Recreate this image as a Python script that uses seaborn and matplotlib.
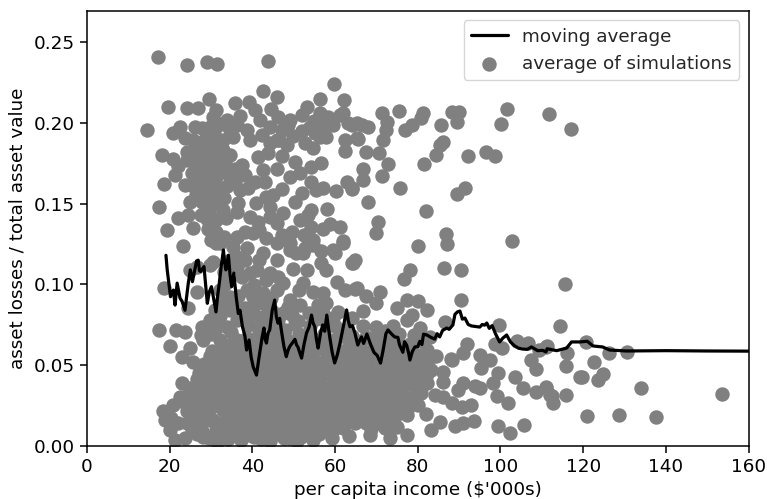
import matplotlib
matplotlib.use("Agg")
import matplotlib.pyplot as plt
import seaborn as sns
import pandas as pd

sns.set_style("ticks")
plt.rcParams['font.family'] = ['DejaVu Sans']

upper_left = [(17.2,.241),(24.2,.236),(29,.2375),(31.4,.2364),(43.8,.238),(59.7,.224),(42.6,.2197),(45.9,.216),(62.1,.214),(56.3,.215),
(19.5,.21),(24.2,.209),(26.8,.209),(29.5,.2147),(35.8,.212),(39.2,.213),(14.5,.1955),(20.9,.1935),(22.5,.1972),(23.7,.1904),
(25.7,.1894),(27.7,.1966),(29.7,.1976),(28.9,.1915),(31.3,.208),(30.5,.2038),(33.8,.2018),(37,.2042),(34.6,.1956),(33,.1894),
(35.4,.1915),(38.6,.1956),(39.4,.1894),(33,.1832),(34.6,.18),(24.1,.1822),(18.2,.18),(20.9,.1774),(22.1,.1733),(21.3,.1678),
(18.7,.162),(23.7,.1616),(25.3,.1688),(26.5,.175),(28.5,.1812),(29.7,.175),(32.2,.1729),(28.1,.1667),(31.3,.1667),(34.6,.1667),
(25.7,.1606),(28.9,.1585),(32.2,.1585),(24.9,.1513),(27.7,.1513),(31.3,.1503),(17.5,.1478),(22.1,.141),(24.5,.1431),(25.7,.1348),
(19.3,.1338),(31.3,.1399),(31.3,.1327),(30.1,.1276),(32.2,.1255),(23.3,.1239),
(27.1,.1875),(30.8,.1945),(32.4,.199),(36.2,.1985),(31.2,.1868),(28.2,.1768),(30.9,.1785),(33.4,.1763),(26.7,.1672),(24.3,.1772),
(29.8,.1628),(33.9,.1608),(35.8,.1712),(26.4,.1552),(29.6,.1528),(33.2,.1535),(29.4,.1458),(32.8,.1462),(30.4,.1408),(27.6,.1428),(29.3,.1342),(33.2,.1292),
(26.1,.1975),(29.9,.1855),(27.4,.1812),(26.3,.1825),(30.1,.1702),(27.4,.1705),(29.2,.1692),(33.3,.1698),(35.9,.1635),(31.1,.1605),(28.2,.1545),(30.5,.1562),(27.8,.1608),(33.6,.1412),(29.1,.1405)]

upper_middle = [(37.6,.174),(38.2,.1678),(37,.1585),(39,.1595),(40.6,.1636),(43,.1636),(42.6,.1709),(45.9,.1713),(41.4,.1791),(43.8,.1812),
(47.1,.1795),(50.3,.176),(56.7,.1754),(54.3,.1729),(51.5,.1688),(49.1,.1667),(47.1,.1591),(43.4,.1544),(45,.1554),(51.9,.1568),
(50.3,.1509),(54.3,.1636),(57.1,.1595),(60.2,.1575),(55.5,.1585),(62.8,.1636),(64,.1591),(58,.1465),(54.3,.1461),(53.5,.143),
(47.5,.1445),(36.6,.1503),(36.2,.1451),(39.4,.142),(41.4,.1389),(44.2,.142),(45.9,.1379),(49.5,.1327),(51.5,.1399),(54.3,.1358),
(58.7,.1375),(61.2,.1358),(62,.127),(54.7,.1276),(52.7,.1224),(49.1,.1255),(43.4,.1286),(45.9,.1255),(40.2,.1321),(38.2,.1327),
(36.2,.1296),(38.6,.1224),(59.6,.121),(40.6,.2079),(41.8,.2018),(44.5,.2086),(46.3,.2038),(48.7,.1987),(44.2,.1976),(45.9,.1894),
(44.2,.1873),(49.9,.1919),(52.7,.1873),(54.7,.1842),(53.1,.21),(51.9,.2048),(56.3,.2059),(53.9,.1976),(56.3,.1915),(57.9,.1915),
(59.6,.1987),(61.2,.2048),(62,.2059),(63.2,.1997),(65.2,.1997),(62.4,.1894),(62.4,.1826),(65.2,.1904),
(54.8,.2012),(52.1,.1952),(55.2,.1935),(47.2,.1955),(46.4,.1895),(41.5,.1335),(47.2,.1305),(52.4,.1305),
(49.2,.2015),(57.6,.1985),(58.2,.2035),(42.3,.1925),(48.3,.1862),(40.8,.1505),(44.3,.1478),(57.2,.1345),(50.6,.1195),(56.6,.1205)]

upper_right = [(71.4,.2059),(75.5,.2073),(72.5,.2007),(72.3,.1956),(71.7,.1894),(66.4,.1987),(68,.1977),(64,.1987),(65.6,.1898),(67.6,.1822),
(70.6,.1816),(72.7,.1746),(66.8,.1713),(66.7,.1647),(71.4,.1668),(64.2,.1595),(67.9,.1509),(75.7,.1595),(70.4,.1385),(69.8,.1317),
(64.8,.1153),(64,.1132),(76.9,.1956),(78.5,.1987),(80.9,.2028),(81.2,.2059),(85.6,.1987),(88.2,.2069),(90,.2065),(89.4,.2007),
(100.1,.1991),(101.6,.2084),(111.7,.2053),(117.1,.1962),(86.2,.188),(85.4,.1863),(84.3,.1801),(81.5,.1744),(92.2,.1795),(96.6,.1822),
(98.7,.1795),(91.4,.1595),(89.4,.156),(82.1,.1455),(86.8,.1311),(87.1,.1249),(80,.1235),(102.9,.1268),(86.3,.1101),(90.5,.1087),
(78.1,.1091),(76.7,.1035),(115.7,.1),(64.8,.0973),(67.4,.0926),(70.9,.0953),(70,.0885),(90.4,.0901),(77.5,.0905),(80.1,.0895),
(82.3,.0844),(75.1,.0854),(78.5,.0809),(77.3,.0782),(66.8,.0837),(64,.0792),(66.8,.0741),(70,.0736),(74.1,.0741),(80.5,.073),
(86.7,.0767),(99.7,.0747),(114.5,.0741)]

lower_right = [(98.7,.0634),(100.3,.0607),(103.9,.0652),(106.7,.0638),(109.4,.0596),(111.2,.0621),(116.2,.0576),(91.8,.0634),(91,.0574),(88.2,.0532),
(88,.0539),(86.2,.046),(95,.0563),(97.4,.0532),(95.4,.0481),(99.5,.045),(103.5,.0425),(107.5,.0535),(108.7,.0477),
(115.8,.0493),(119.2,.0425),(86.2,.0398),(91,.0388),(89.8,.0349),(93.8,.037),(95,.0357),(98.2,.0388),(99.2,.031),(105.5,.0357),
(108.7,.0333),(111.1,.0368),(112.4,.0308),(112.8,.0265),(115.8,.0318),(101.9,.0269),(84.1,.0316),(86.2,.0306),(88.4,.0265),
(90.6,.0244),(92.8,.0254),(82.1,.0199),(80.1,.0254),(85.5,.0151),(83.3,.0096),(89,.0123),(91,.0143),(93.6,.0153),(99.3,.0124),
(102.4,.0079),(105.7,.0131),(77.5,.0069),(75.1,.0116),(72,.011),(73.3,.0048),(68.4,.0069),(59.2,.0048),(63.4,.0059),(68.8,.0105),(111.1,.0615),(120.8,.0646),
(126.3,.0578),(130.6,.058),(122.6,.0522),(124.8,.0446),(123.6,.0409),(119.8,.0425),(134.1,.0357),(153.7,.0322),(111.1,.0357),(111.9,.0316),
(121,.0186),(128.7,.0189),(137.7,.0178)]

middle_band = [(31.3,.1254),(42.6,.1193),(45.9,.1151),(49.1,.1213),(52.3,.1193),(54.7,.1244),(60,.1193),(56.7,.113),(57.9,.1089),(64.4,.113),
(62,.1254),(60.4,.1017),(62.4,.0966),(65.2,.0976),(57.1,.0945),(54.7,.0956),(57.9,.0884),(52.3,.1007),(47.5,.1007),(51.5,.0873),
(60.8,.0832),(24.9,.109),(26.5,.111),(18.7,.0976),(26.5,.0952),(24.5,.0853),(29.7,.112),(30.5,.1141),(41,.109),(38.2,.1151),
(34.6,.1151),(36.2,.111),(35.4,.1234),(39.4,.1069),(44.2,.1069),(43.4,.1028),(38.6,.0966),(42.6,.0945),(45.9,.0966),(49.1,.0904),
(41,.0884),(34.6,.0925),(34.6,.0842),(30.9,.0842),(42.6,.0801),(47.5,.0822),(17.5,.0715),(21.5,.0719),(23.7,.0708),(20.1,.0621),
(22.9,.0553),(24.9,.0606),(27.7,.0739),(29.7,.078),(28.1,.0657),(25.7,.052),(33.8,.0739),(32.2,.0657),(36.2,.078),(36.2,.0657),
(29.7,.0554),(33,.0554),(39,.0746),(41.5,.0705),(44.5,.0748),(48,.0716),(51,.0775),(54,.0742),(57,.0788),(60,.0745),(63,.0722),(72,.0712),(75.5,.0695),(79,.0685),(83,.0672),
(38.1,.0855),(36.6,.0928),(32.1,.0968),(37.4,.1045),(33.2,.1078),(40.4,.0815),(44.8,.0835),(53.8,.0822),(49.5,.0808),(57.2,.0825),(64,.0678),(67.4,.0672),(70,.0668),(38.8,.0668),(34.8,.0705),(31.2,.0728),
(32.6,.0888),(30.2,.0772),(32.2,.0802),(35.6,.0862),(38.6,.0785),(43.4,.0875),(46.2,.0782),(50.2,.0752),(55.4,.0788),(59.4,.0792),(27.6,.0688),(30.1,.0695),(42.2,.0752),(45.6,.0722),(62,.0685),(73.2,.0682),
(40.3,.0995),(41.6,.1152),(46.2,.1048),(49.8,.1095),(51.2,.0965),(53.2,.1092),(36.4,.1172),(33.4,.1002),(40.2,.0925),(44.6,.0918),(48.6,.0862),(55.8,.0875)]

dense_a = [(28.1,.041),(22.9,.0388),(22.5,.0305),(18.3,.0218),(18.9,.016),(20.1,.0099),(21.3,.0037),(25.3,.0104),(22.1,.0142),(25.7,.0245),
(29.7,.0163),(26.2,.0335),(29.2,.0288),(28.7,.0472),(31.2,.0435),(34.3,.0478),(37.4,.0525),(40.1,.0562),(43.2,.0595),(46.4,.0625),
(49.3,.0588),(52.5,.0634),(55.2,.0592),(58.3,.0628),(61.4,.0585),(64.3,.0615),(67.2,.0582),(70.3,.0608),(73.4,.0575),(76.2,.0598),
(79.3,.0572),(82.2,.0595),(84.5,.0555),(32.2,.0372),(35.4,.0408),(38.3,.0445),(41.2,.0482),(44.4,.0525),(47.3,.0545),(50.4,.0512),
(53.3,.0548),(56.4,.0515),(59.2,.0546),(62.3,.0508),(65.4,.0535),(68.3,.0502),(71.4,.0532),(74.2,.0498),(77.4,.0525),(80.3,.0495),(83.3,.047)]

dense_b = [(33.2,.0298),(36.3,.0335),(39.4,.0372),(42.3,.0408),(45.2,.0448),(48.4,.0472),(51.3,.0438),(54.4,.0472),(57.2,.0438),(60.3,.0468),
(63.4,.0432),(66.2,.0462),(69.4,.0428),(72.3,.0455),(75.2,.0422),(78.4,.0448),(81.3,.0418),(82.2,.0392),(34.3,.0228),(37.4,.0262),
(40.2,.0298),(43.4,.0335),(46.3,.0372),(49.2,.0398),(52.4,.0362),(55.3,.0395),(58.4,.0358),(61.2,.0392),(64.4,.0355),(67.3,.0385),
(70.2,.0352),(73.4,.0378),(76.3,.0345),(79.2,.0372),(80.9,.0326),(30.5,.0158),(35.2,.0155),(38.3,.0192),(41.4,.0225),(44.3,.0262),
(47.2,.0298),(50.3,.0325),(53.2,.0288),(56.4,.0322),(59.3,.0285),(62.2,.0315),(65.4,.0278),(68.2,.0308),(71.3,.0275),(74.4,.0302),(77.3,.0223)]

dense_c = [(26.6,.0072),(29.5,.0048),(32.4,.0085),(36.4,.0082),(39.2,.0118),(42.3,.0152),(45.4,.0188),(48.2,.0225),(51.4,.0252),(54.2,.0215),
(57.3,.0248),(60.4,.0212),(63.2,.0242),(66.4,.0205),(69.3,.0232),(72.2,.0198),(75.4,.0225),(77.3,.0192),(34.2,.0042),(37.3,.0035),
(40.3,.0055),(43.3,.0082),(46.2,.0115),(49.4,.0152),(52.3,.0178),(55.4,.0142),(58.2,.0175),(61.3,.0138),(64.2,.0168),(67.4,.0142),
(70.8,.0145),(47.6,.0052),(50.4,.0085),(53.4,.0105),(56.2,.0072),(59.4,.0102),(62,.011),(44.2,.0028),(50.8,.0032),(54.7,.0038),
(24.1,.0215),(20.9,.0255),(20.3,.0172),(23.8,.0052),(27.6,.0218),(28.3,.0362),(30.6,.0248),(30.3,.0352),(28.1,.0057),(31.4,.0022)]

dense_d = [(30.2,.0588),(33.4,.0612),(36.3,.0594),(39.2,.0638),(42.1,.0662),(45.2,.0678),(48.3,.0658),(51.2,.0692),(54.4,.0668),(57.3,.0694),
(60.2,.0662),(63.4,.0648),(66.3,.0652),(69.3,.0636),(72.2,.0645),(75.2,.0638),(78.2,.0632),(81.2,.0642),(31.6,.0512),(34.8,.0545),
(38.6,.0578),(41.6,.0555),(44.8,.0588),(48.1,.0602),(51.6,.0574),(54.6,.0535),(57.8,.0582),(60.8,.0528),(63.8,.0575),(66.8,.0522),
(69.8,.0568),(72.8,.0518),(75.8,.0558),(78.8,.0512),(81.8,.0528),(29.8,.0462),(33.2,.0428),(36.7,.0475),(39.8,.0428),(42.8,.0465),
(46.2,.0492),(49.8,.0455),(52.8,.0505),(55.8,.0432),(58.8,.0492),(61.8,.0448),(64.8,.0488),(67.8,.0442),(70.8,.0482),(73.8,.0438),
(76.8,.0475),(79.8,.0428)]

dense_e = [(27.4,.0328),(30.8,.0325),(34.8,.0352),(37.8,.0385),(40.8,.0412),(43.8,.0392),(46.8,.0425),(50.2,.0385),(53.2,.0418),(56.4,.0375),
(59.8,.0412),(62.8,.0372),(65.8,.0405),(68.8,.0368),(71.8,.0398),(74.8,.0362),(77.8,.0395),(24.4,.0318),(23.8,.0265),(27.2,.0265),
(31.8,.0298),(35.8,.0282),(38.8,.0315),(41.8,.0342),(45.1,.0318),(48.4,.0348),(51.8,.0312),(54.8,.0342),(57.8,.0305),(60.8,.0338),
(63.8,.0298),(66.8,.0332),(69.8,.0295),(72.8,.0325),(75.8,.0285),(29.2,.0212),(33.4,.0162),(36.8,.0225),(39.8,.0242),(42.8,.0275),
(46.4,.0245),(49.8,.0278),(52.8,.0238),(55.8,.0268),(58.8,.0222),(61.8,.0262),(64.8,.0222),(67.8,.0255),(70.8,.0212),(73.8,.0248)]

dense_f = [(25.4,.0168),(27.3,.0135),(31.2,.0098),(33.8,.0108),(36.2,.0138),(38.8,.0152),(41.2,.0178),(43.8,.0205),(47.1,.0165),(50.1,.0198),
(52.9,.0138),(55.6,.0192),(58.8,.0145),(61.8,.0188),(64.8,.0145),(67.6,.0185),(70.4,.0175),(38.7,.0068),(41.7,.0102),(44.8,.0125),
(48.2,.0095),(51.8,.0058),(54.8,.0095),(57.6,.0108),(24.3,.0142),(27.8,.0092),(24.6,.0268),(26.6,.0412),(24.8,.0362),(33.6,.0065)]

dense_g = [(30.4,.0405),(33.6,.0362),(35.2,.0465),(37.2,.0412),(40.3,.0505),(38.2,.0512),(42.6,.0528),(45.7,.0545),(48.8,.0522),(32.8,.0492),
(35.6,.0518),(31.8,.0568),(34.6,.0628),(37.8,.0648),(40.7,.0612),(43.4,.0642),(46.8,.0582),(50.1,.0625),(53.1,.0598),(56.2,.0638),
(59.1,.0595),(62.4,.0562),(65.2,.0592),(68.2,.0555),(71.2,.0585),(74.1,.0552),(77.1,.0585),(80.1,.0545),(83.1,.0552),(28.4,.0508),
(27.1,.0452),(31.1,.0272),(32.9,.0225),(35.6,.0202),(37.7,.0135),(40.6,.0132),(43.1,.0122),(45.6,.0072),(49.1,.0052),(52.4,.0085),
(55.8,.0112),(42.2,.0045),(47.6,.0142),(50.7,.0122),(53.7,.0172),(56.7,.0142),(59.7,.0178),(62.7,.0148),(65.7,.0182),(68.7,.0178),
(72.7,.0162),(74.7,.0192),(76.4,.0265),(78.6,.0298),(80.6,.0352),(82.2,.0445),(79.4,.0412),(75.6,.0392),(72.6,.0345),(69.6,.0318)]

ma = [(19.1,.118),(19.4,.109),(20.2,.0924),(20.6,.0955),(20.9,.0965),(21.3,.0872),(21.8,.1008),(22.5,.0915),(23,.0895),(23.7,.084),(24.5,.1008),(25,.109),(25.5,.1017),(26,.108),
(26.5,.1145),(26.9,.115),(27.2,.1085),(27.5,.108),(28.3,.111),(28.7,.1),(29.1,.0883),(29.6,.0955),(30.1,.0986),(30.7,.0903),(31.2,.083),(31.6,.093),(32,.1008),(32.5,.112),(33,.1213),(33.3,.113),(33.6,.109),
(34.2,.118),(34.6,.106),(35,.0986),(35.5,.107),(36.1,.092),(36.6,.082),(37,.084),(37.6,.0738),(38.2,.068),(38.6,.0594),(39.2,.0656),(39.7,.055),(40.2,.049),(41,.0439),(41.5,.053),(42,.0614),(42.4,.068),(42.8,.073),
(43.1,.066),(43.4,.0637),(43.8,.07),(44.2,.0718),(44.8,.084),(45.4,.0903),(45.8,.08),(46.2,.076),(46.6,.079),(47,.0718),(47.6,.062),(48.2,.0553),(48.6,.059),(49,.0614),(49.6,.0635),(50.3,.066),(50.7,.0625),(51,.0614),
(51.9,.0544),(52.5,.063),(53.1,.0699),(53.7,.0735),(54.3,.081),(54.7,.076),(55.1,.0738),(55.5,.066),(55.9,.0606),(56.5,.07),(57,.0749),(57.5,.071),(58,.081),(58.4,.073),(58.7,.0676),(59.3,.058),(59.9,.0514),(60.5,.056),(61.2,.0637),
(62,.074),(62.8,.0842),(63.2,.0775),(63.6,.0738),(64.2,.0745),(64.8,.0699),(65.5,.0625),(66,.0655),(66.4,.0675),(66.9,.0635),(67.7,.0693),(68.5,.0635),(69.4,.058),(70.2,.056),(71,.0513),(71.6,.059),(72.3,.0695),(72.8,.0718),
(73.6,.0695),(74.4,.0675),(75.2,.0672),(75.6,.0625),(76.4,.058),(76.8,.0645),(77.3,.0625),(77.8,.0575),(78.1,.0532),(78.7,.0585),(79.3,.0613),(80,.0615),(80.5,.0648),(81,.0628),(81.4,.0692),(82.2,.0687),(83.2,.0672),(84.1,.0662),(84.7,.0695),(85.3,.0675),
(86,.0715),(87,.073),(87.6,.0722),(88.5,.0749),(89,.0815),(89.6,.083),(90.2,.0835),(90.8,.0785),(91.4,.0792),(92.2,.0752),(93,.0743),(95,.0736),(95.6,.0752),(96.2,.0748),(96.7,.0761),(97.3,.0728),(98,.0745),(98.8,.0695),(99.8,.0644),(100.6,.0668),(101.5,.0687),
(102.4,.0645),(103.4,.062),(104.4,.0605),(105.4,.06),(106.5,.0598),(107.5,.0613),(109,.059),(110.2,.0592),(111,.0582),(111.3,.0602),(113.6,.059),(116,.0606),(117.2,.0644),(119.2,.0644),(121,.0648),
(122.4,.0619),(124.7,.0613),(126.4,.0594),(130.5,.0588),(140,.059),(150,.0588),(160,.0587)]

xticks = [0,20,40,60,80,100,120,140,160]
yticks = [0.00,0.05,0.10,0.15,0.20,0.25]

groups = [upper_left, upper_middle, upper_right, lower_right, middle_band, dense_a, dense_b, dense_c, dense_d, dense_e, dense_f, dense_g]
scatter_df = pd.DataFrame([p for g in groups for p in g], columns=["income","loss"])
line_df = pd.DataFrame(ma, columns=["income","loss"])

fig = plt.figure(figsize=(7.67,4.99), dpi=100)
ax = fig.add_axes([87/767, 1-446/499, (748.5-87)/767, (446-11)/499])
sns.lineplot(data=line_df, x="income", y="loss", color="black", linewidth=2.3, label="moving average", ax=ax, estimator=None, sort=False)
sns.scatterplot(data=scatter_df, x="income", y="loss", color="gray", s=108, linewidth=0, label="average of simulations", ax=ax)
ax.set_xlim(0,160)
ax.set_ylim(0,0.2692)
ax.set_xticks(xticks)
ax.set_yticks(yticks)
ax.set_yticklabels([f"{v:.2f}" for v in yticks])
ax.tick_params(labelsize=13.2, length=5, width=1.1, color="black", labelcolor="black", pad=4)
for s in ax.spines.values():
    s.set_visible(True); s.set_linewidth(1.1); s.set_color("black")
ax.set_xlabel("per capita income ($'000s)", fontsize=13.2, labelpad=3, color="black")
ax.set_ylabel("asset losses / total asset value", fontsize=13.2, labelpad=5, color="black")
ax.legend(loc="upper right", fontsize=13.2, frameon=True, framealpha=0.8, fancybox=True)
fig.savefig("out.png", dpi=100)
